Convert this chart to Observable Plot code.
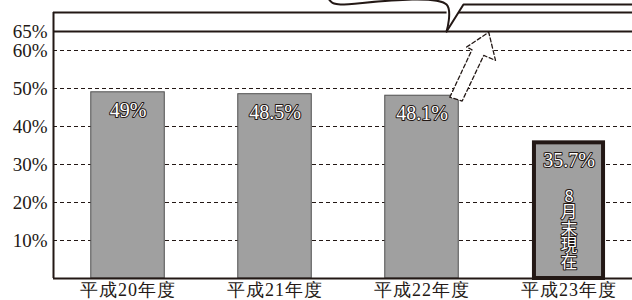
<!DOCTYPE html>
<html>
<head>
<meta charset="utf-8">
<script src="https://cdn.jsdelivr.net/npm/d3@7"></script>
<script src="https://cdn.jsdelivr.net/npm/@observablehq/plot@0.6"></script>
<style>
  html, body { margin: 0; padding: 0; background: #fff; overflow: hidden; }
  #chart { width: 632px; height: 300px; }
</style>
</head>
<body>
<div id="chart"></div>
<script>
// ---- data ----
const categories = ["平成20年度", "平成21年度", "平成22年度", "平成23年度"];
const values = [49, 48.5, 48.1, 35.7];
const valueLabels = ["49%", "48.5%", "48.1%", "35.7%"];
const yTicks = [10, 20, 30, 40, 50, 60, 65];
const gridTicks = [10, 20, 30, 40, 50, 60];
const targetLine = 65;
const frameTop = 70;
const noteText = "8月末現在";

// annotation shapes in data units (x = category index, y = percent)
const arrowX = [2.189, 2.340, 2.303, 2.454, 2.500, 2.420, 2.273, 2.189];
const arrowY = [47.7, 60.2, 60.9, 64.8, 57.4, 58.7, 46.7, 47.7];
const bubbleLeftX = [1.357, 1.358, 1.363, 1.374, 1.391, 1.418, 1.446, 2.167, 2.167];
const bubbleLeftY = [76.5, 74.8, 73.9, 73.1, 72.55, 72.22, 72.1, 72.1, 65];
const bubbleRightX = [3.432, 2.282, 2.167];
const bubbleRightY = [72.1, 72.1, 65];

// ---- build ----
const ink = "#231815";
const bars = values.map((v, i) => ({i, v, label: valueLabels[i]}));
const arrow = arrowX.map((x, k) => ({x, y: arrowY[k]}));
const bubbleL = bubbleLeftX.map((x, k) => ({x, y: bubbleLeftY[k]}));
const bubbleR = bubbleRightX.map((x, k) => ({x, y: bubbleRightY[k]}));
const tail = [bubbleL[7], bubbleL[8], bubbleR[1]];

const serif = "Liberation Serif";

const chart = Plot.plot({
  width: 632,
  height: 300,
  marginLeft: 53,
  marginRight: 0,
  marginTop: 12,
  marginBottom: 22,
  style: {color: ink, background: "white", overflow: "hidden", fontFamily: serif},
  x: {type: "linear", domain: [-0.507, 3.432]},
  y: {domain: [0, frameTop]},
  marks: [
    Plot.ruleY(gridTicks, {stroke: ink, strokeWidth: 1, strokeDasharray: "4,3"}),
    Plot.rect(bars.filter(d => d.i < 3), {
      x1: d => d.i - 0.25, x2: d => d.i + 0.25, y1: 0, y2: "v",
      fill: "#a0a0a0", stroke: "#505050", strokeWidth: 1
    }),
    Plot.rect(bars.filter(d => d.i === 3), {
      x1: d => d.i - 0.235, x2: d => d.i + 0.235, y1: 0, y2: "v",
      fill: "#a0a0a0", stroke: ink, strokeWidth: 4
    }),
    Plot.text(bars, {
      x: "i", y: "v", text: "label", dy: 18,
      fontSize: 20, fontFamily: serif,
      fill: "white", stroke: ink, strokeWidth: 2, paintOrder: "stroke"
    }),
    Plot.text(bars.filter(d => d.i === 3), {
      x: "i", y: "v", text: () => noteText, dy: 39, textAnchor: "start",
      fontSize: 16.5, fontFamily: "Noto Sans CJK JP", className: "note",
      fill: "white", stroke: ink, strokeWidth: 2, paintOrder: "stroke"
    }),
    Plot.ruleY([0], {stroke: ink, strokeWidth: 2}),
    Plot.ruleY([targetLine], {stroke: ink, strokeWidth: 2}),
    Plot.ruleY([frameTop], {stroke: ink, strokeWidth: 2}),
    Plot.ruleX([-0.507], {y1: 0, y2: frameTop, stroke: ink, strokeWidth: 2}),
    // dashed hollow arrow
    Plot.line(arrow, {x: "x", y: "y", fill: "white", stroke: ink, strokeWidth: 1.3, strokeDasharray: "4,2.5"}),
    // speech bubble bottom edge with tail
    Plot.line(tail, {x: "x", y: "y", fill: "white", stroke: "none"}),
    Plot.line(bubbleL, {x: "x", y: "y", stroke: ink, strokeWidth: 2, curve: "catmull-rom"}),
    Plot.line(bubbleR, {x: "x", y: "y", stroke: ink, strokeWidth: 2}),
    Plot.axisY({ticks: yTicks, tickFormat: d => d + "%", tickSize: 0, tickPadding: 6, fontSize: 19, fontFamily: serif}),
    Plot.axisX({ticks: [0, 1, 2, 3], tickFormat: i => categories[i], tickSize: 0, tickPadding: 5, fontSize: 18, fontFamily: serif})
  ]
});
document.getElementById("chart").appendChild(chart);
chart.querySelectorAll('[aria-label="x-axis tick label"] text').forEach(t => t.style.letterSpacing = "1px");
chart.querySelectorAll('g.note text').forEach(t => {
  t.removeAttribute("dy");
  t.style.writingMode = "vertical-rl";
  t.style.textOrientation = "upright";
  t.style.letterSpacing = "0px";
});
</script>
</body>
</html>
